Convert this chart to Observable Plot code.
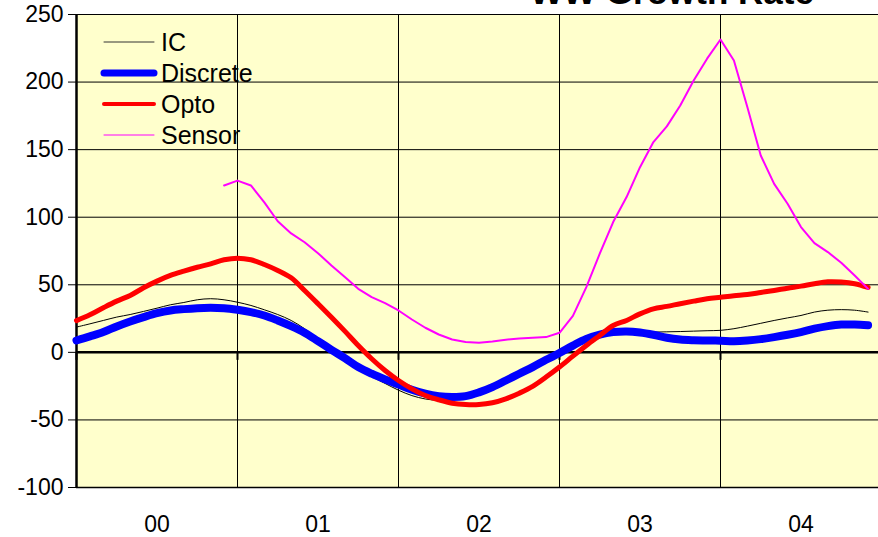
<!DOCTYPE html>
<html>
<head>
<meta charset="utf-8">
<script src="https://cdn.jsdelivr.net/npm/d3@7"></script>
<script src="https://cdn.jsdelivr.net/npm/@observablehq/plot@0.6"></script>
<style>
  html, body { margin: 0; padding: 0; background: #fff; overflow: hidden; }
  #wrap { position: relative; width: 878px; height: 537px; overflow: hidden; }
  #title { position: absolute; left: 672px; top: -26px; transform: translateX(-50%);
           font: bold 35px "Liberation Sans", Arial, sans-serif; line-height: 35px; white-space: nowrap; color: #000; }
  #legend { position: absolute; left: 0; top: 0; }
</style>
</head>
<body>
<div id="wrap">
  <div id="chart"></div>
  <div id="title">WW Growth Rate</div>
</div>
<script>
// ---- data (monthly, Jan 2000 .. Dec 2004) ----
const yearLabels = ["00", "01", "02", "03", "04"];
const seriesNames = ["IC", "Discrete", "Opto", "Sensor"];
const seriesColors = ["#000000", "#0000FF", "#FF0000", "#FF00FF"];
const seriesWidths = [1, 8, 5, 2];
const yTickValues = [-100, -50, 0, 50, 100, 150, 200, 250];

const ic = [18.7, 21.1, 23.6, 26.1, 28, 30.3, 32.7, 35.2, 36.9, 38.9, 39.7, 38.9,
            37.1, 34.7, 31.5, 28, 23.6, 17.5, 10, 2, -5, -12, -18, -23,
            -28, -32, -34.5, -35.5, -35, -33, -30, -26, -21, -16, -11, -5.5,
            0, 5, 10, 13.2, 15, 15.5, 15.2, 15, 15.2, 15.4, 15.7, 16,
            16.3, 17.5, 19.4, 21.5, 23.6, 25.5, 27.3, 29.8, 31.2, 31.6, 31.2, 29.8];
const discrete = [8.8, 11.8, 15, 19.2, 22.9, 26.1, 29, 31, 32, 32.7, 33, 32.7,
                  31.5, 29.8, 27.3, 23.6, 19.4, 14.5, 8.3, 1.9, -4.3, -10.9, -15.8, -20,
                  -23.8, -27.7, -30.6, -32.4, -33, -32.4, -29.6, -25.7, -20.8, -15.8, -10.9, -5.5,
                  -0.5, 5, 10, 13.2, 15, 15.5, 14.7, 13, 10.8, 9.5, 9, 8.8,
                  8.6, 8.3, 8.8, 9.8, 11.3, 13, 15, 17.5, 19.4, 20.6, 20.6, 20.1];
const opto = [23.5, 27.8, 33, 37.9, 42.1, 47.8, 52.7, 56.9, 60.1, 63, 65.5, 68.5,
              69.7, 68.5, 65, 60.6, 55.2, 45.8, 36, 26, 15.7, 5.1, -4.7, -13.4,
              -20.8, -27, -31.9, -35.1, -37.6, -38.6, -38.6, -37.3, -34.4, -30.2, -25.2, -18.3,
              -10.9, -2.8, 5.1, 12.5, 19.9, 23.6, 28.5, 32.2, 34, 36, 37.9, 39.7,
              40.8, 41.9, 42.8, 44.3, 45.8, 47.5, 49, 50.8, 52.2, 52, 50.8, 48];
const sensor = [null, null, null, null, null, null, null, null, null, null, null, 123.5,
                127.1, 123.5, 111, 97, 88, 81.5, 73.4, 64.3, 55.7, 47, 40.9, 36.4,
                31, 24.3, 18.2, 13.2, 9.5, 7.6, 7.1, 8, 9.3, 10.3, 10.8, 11.3,
                14.5, 27, 48.3, 73, 96.4, 114.9, 137, 155.6, 167.2, 182.7, 201.2, 217.3,
                231.5, 216, 181.5, 145.7, 124.7, 110, 92.7, 80.8, 74.2, 66.3, 56.9, 47];

const seriesValues = [ic, discrete, opto, sensor];
const curves = ["catmull-rom", "catmull-rom", "catmull-rom", "linear"];

// ---- build table ----
const rows = [];
seriesNames.forEach((name, s) => seriesValues[s].forEach((v, i) => rows.push({series: name, month: i, value: v})));

const monthsPerYear = 12;
const nMonths = yearLabels.length * monthsPerYear;
const yearCenters = yearLabels.map((_, k) => k * monthsPerYear + monthsPerYear / 2);
const yearBounds = yearLabels.slice(1).map((_, k) => (k + 1) * monthsPerYear);
const axisTicks = [0, ...yearBounds];

const W = 878, H = 537, mL = 76, mT = 14, mB = 50;
const yearPx = 161;

const lineMarks = seriesNames.map((name, s) =>
  Plot.line(rows.filter(d => d.series === name), {
    x: "month", y: "value",
    stroke: seriesColors[s], strokeWidth: seriesWidths[s],
    curve: curves[s], strokeLinejoin: "round", strokeLinecap: "round"
  })
);

const chart = Plot.plot({
  width: W, height: H,
  marginLeft: mL, marginRight: 0, marginTop: mT, marginBottom: mB,
  style: {fontFamily: "'Liberation Sans', Arial, sans-serif", fontSize: "23px", background: "transparent", color: "#000"},
  x: {domain: [0, nMonths], range: [mL, mL + yearPx * yearLabels.length],
      ticks: yearCenters, tickFormat: d => yearLabels[(d - monthsPerYear / 2) / monthsPerYear],
      tickSize: 0, tickPadding: 28, label: null},
  y: {domain: [-100, 250], ticks: yTickValues, tickFormat: d => String(d),
      tickSize: 8, tickPadding: 5, label: null},
  marks: [
    Plot.frame({fill: "#FFFFCC", stroke: "none"}),
    Plot.ruleY(yTickValues, {stroke: "#000", strokeWidth: 1}),
    Plot.ruleX(yearBounds, {stroke: "#000", strokeWidth: 1}),
    Plot.ruleY([-100], {stroke: "#000", strokeWidth: 1.5}),
    Plot.ruleX([0], {stroke: "#000", strokeWidth: 2.5}),
    Plot.ruleY([0], {stroke: "#000", strokeWidth: 2.5}),
    Plot.ruleX(axisTicks, {y1: 0, y2: 0, insetBottom: -8, stroke: "#000", strokeWidth: 2}),
    ...lineMarks
  ]
});
document.getElementById("chart").appendChild(chart);

// ---- legend (inside plot area, top-left) ----
const leg = d3.select("#wrap").append("svg").attr("id", "legend")
  .attr("width", 300).attr("height", 160);
const legY0 = 42, legStep = 31;
seriesNames.forEach((name, s) => {
  const g = leg.append("g").attr("transform", `translate(0,${legY0 + s * legStep})`);
  g.append("line").attr("x1", 104).attr("x2", 154).attr("y1", 0).attr("y2", 0)
    .attr("stroke", seriesColors[s] === "#000000" ? "#333" : seriesColors[s])
    .attr("stroke-width", Math.max(1, seriesWidths[s] - 1))
    .attr("stroke-linecap", "round");
  g.append("text").attr("x", 161).attr("y", 0).attr("dy", "0.36em")
    .attr("font-family", "'Liberation Sans', Arial, sans-serif")
    .attr("font-size", 25).attr("fill", "#000").text(name);
});
</script>
</body>
</html>
